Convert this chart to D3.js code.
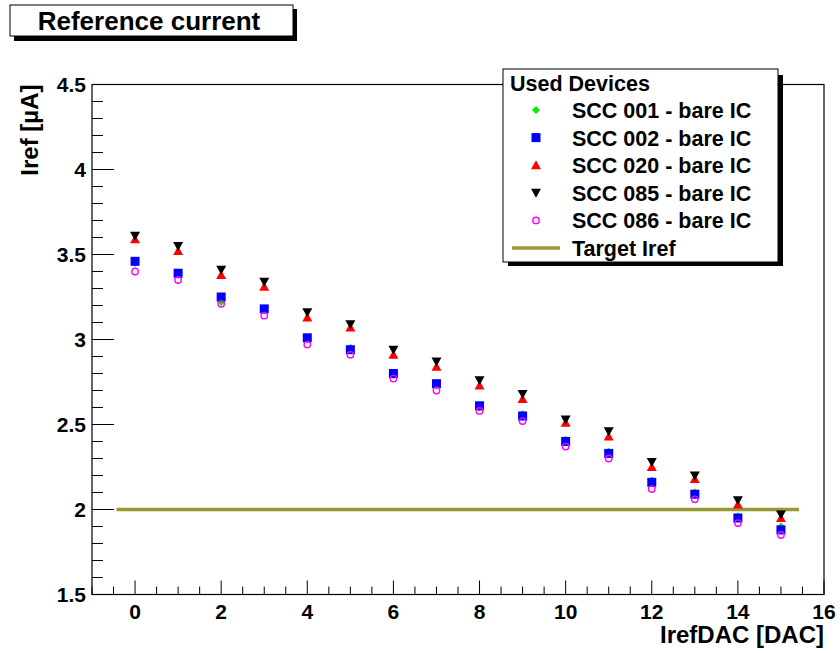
<!DOCTYPE html>
<meta charset="utf-8">
<script src="https://d3js.org/d3.v7.min.js"></script>
<style>
  body { margin: 0; background: #fff; }
  text { font-family: "Liberation Sans", Arial, Helvetica, sans-serif; font-weight: bold; fill: #000; }
</style>
<svg id="chart" width="840" height="653"></svg>
<script>
  // data
  var dac = [0, 1, 2, 3, 4, 5, 6, 7, 8, 9, 10, 11, 12, 13, 14, 15];
  var scc001 = [3.45, 3.38, 3.22, 3.17, 3.00, 2.95, 2.79, 2.73, 2.60, 2.56, 2.41, 2.34, 2.17, 2.10, 1.96, 1.90];
  var scc002 = [3.46, 3.39, 3.25, 3.18, 3.01, 2.94, 2.80, 2.74, 2.61, 2.55, 2.40, 2.33, 2.16, 2.09, 1.95, 1.88];
  var scc020 = [3.59, 3.52, 3.38, 3.31, 3.13, 3.07, 2.91, 2.84, 2.73, 2.65, 2.51, 2.43, 2.25, 2.18, 2.03, 1.95];
  var scc085 = [3.61, 3.55, 3.41, 3.34, 3.16, 3.09, 2.94, 2.87, 2.76, 2.68, 2.53, 2.46, 2.28, 2.20, 2.055, 1.97];
  var scc086 = [3.40, 3.35, 3.21, 3.14, 2.97, 2.91, 2.77, 2.70, 2.58, 2.52, 2.37, 2.30, 2.12, 2.06, 1.92, 1.85];
  var targetIref = 2.0;
  var targetRange = [-0.43, 15.42];
  var xTicks = [0, 2, 4, 6, 8, 10, 12, 14, 16];
  var yTicks = [1.5, 2, 2.5, 3, 3.5, 4, 4.5];

  var series = [
    { name: "SCC 001 - bare IC", values: scc001, shape: "diamond", color: "#00ee00" },
    { name: "SCC 002 - bare IC", values: scc002, shape: "square", color: "#0000ff" },
    { name: "SCC 020 - bare IC", values: scc020, shape: "up", color: "#ff0000" },
    { name: "SCC 085 - bare IC", values: scc085, shape: "down", color: "#000000" },
    { name: "SCC 086 - bare IC", values: scc086, shape: "circle", color: "#ff00ff" }
  ];

  var svg = d3.select("#chart");
  var plotL = 92, plotR = 824, plotT = 84.5, plotB = 594.5;

  var x = d3.scaleLinear().domain([-1, 16]).range([plotL, plotR]);
  var y = d3.scaleLinear().domain([1.5, 4.5]).range([plotB, plotT]);

  // marker drawing
  function marker(sel, shape, color) {
    if (shape === "square") {
      sel.append("rect").attr("x", -4.5).attr("y", -4.5).attr("width", 9).attr("height", 9).attr("fill", color);
    } else if (shape === "up") {
      sel.append("path").attr("d", "M0,-5L5,4L-5,4Z").attr("fill", color);
    } else if (shape === "down") {
      sel.append("path").attr("d", "M0,5L5,-4L-5,-4Z").attr("fill", color);
    } else if (shape === "diamond") {
      sel.append("path").attr("d", "M0,-4L4,0L0,4L-4,0Z").attr("fill", color);
    } else {
      sel.append("circle").attr("r", 3.2).attr("fill", "none").attr("stroke", color).attr("stroke-width", 1.4);
    }
  }

  // frame
  svg.append("rect")
    .attr("x", plotL).attr("y", plotT)
    .attr("width", plotR - plotL).attr("height", plotB - plotT)
    .attr("fill", "none").attr("stroke", "#000").attr("stroke-width", 1.2);

  // y ticks (inside, ROOT style)
  var yMinor = d3.range(15, 46).map(function(d) { return d / 10; });
  svg.append("g").selectAll("line").data(yMinor).enter().append("line")
    .attr("x1", plotL).attr("x2", function(d) { return plotL + (Math.abs(d * 2 - Math.round(d * 2)) < 1e-6 ? 22 : 11); })
    .attr("y1", function(d) { return y(d); }).attr("y2", function(d) { return y(d); })
    .attr("stroke", "#000").attr("stroke-width", 1);
  svg.append("g").selectAll("text").data(yTicks).enter().append("text")
    .attr("x", plotL - 6).attr("y", function(d) { return y(d) + 7.5; })
    .attr("text-anchor", "end").style("font-size", "21px")
    .text(function(d) { return d; });

  // x ticks
  var xMinor = d3.range(-2, 33).map(function(d) { return d / 2; });
  svg.append("g").selectAll("line").data(xMinor).enter().append("line")
    .attr("x1", function(d) { return x(d); }).attr("x2", function(d) { return x(d); })
    .attr("y1", plotB).attr("y2", function(d) { return plotB - (d % 2 === 0 ? 14 : 8); })
    .attr("stroke", "#000").attr("stroke-width", 1);
  svg.append("g").selectAll("text").data(xTicks).enter().append("text")
    .attr("x", function(d) { return x(d); }).attr("y", plotB + 24)
    .attr("text-anchor", "middle").style("font-size", "21px")
    .text(function(d) { return d; });

  // axis titles
  svg.append("text").attr("x", plotR).attr("y", 643)
    .attr("text-anchor", "end").style("font-size", "24px").text("IrefDAC [DAC]");
  svg.append("text").attr("transform", "translate(38," + plotT + ") rotate(-90)")
    .attr("text-anchor", "end").style("font-size", "24px").text("Iref [µA]");

  // target line
  svg.append("line")
    .attr("x1", x(targetRange[0])).attr("x2", x(targetRange[1]))
    .attr("y1", y(targetIref)).attr("y2", y(targetIref))
    .attr("stroke", "#999933").attr("stroke-width", 3.3);

  // points
  series.forEach(function(s) {
    svg.append("g").selectAll("g").data(s.values).enter().append("g")
      .attr("transform", function(d, i) { return "translate(" + x(dac[i]) + "," + y(d) + ")"; })
      .each(function() { marker(d3.select(this), s.shape, s.color); });
  });

  // title box
  svg.append("rect").attr("x", 14).attr("y", 9).attr("width", 283).attr("height", 32).attr("fill", "#000");
  svg.append("rect").attr("x", 10).attr("y", 5).attr("width", 283).attr("height", 31)
    .attr("fill", "#fff").attr("stroke", "#000").attr("stroke-width", 1);
  svg.append("text").attr("x", 149).attr("y", 30).attr("text-anchor", "middle")
    .style("font-size", "26px").text("Reference current");

  // legend
  var lg = svg.append("g");
  lg.append("rect").attr("x", 508).attr("y", 75).attr("width", 275).attr("height", 191).attr("fill", "#000");
  lg.append("rect").attr("x", 503).attr("y", 69).attr("width", 275).attr("height", 193)
    .attr("fill", "#fff").attr("stroke", "#000").attr("stroke-width", 1);
  lg.append("text").attr("x", 510).attr("y", 91).style("font-size", "21.5px").text("Used Devices");
  series.forEach(function(s, i) {
    var ly = 110 + i * 27.6;
    var m = lg.append("g").attr("transform", "translate(536," + ly + ")");
    marker(m, s.shape, s.color);
    lg.append("text").attr("x", 572).attr("y", ly + 8).style("font-size", "21.5px").text(s.name);
  });
  lg.append("line").attr("x1", 512).attr("x2", 560).attr("y1", 248).attr("y2", 248)
    .attr("stroke", "#999933").attr("stroke-width", 3.3);
  lg.append("text").attr("x", 572).attr("y", 256).style("font-size", "21.5px").text("Target Iref");
</script>
